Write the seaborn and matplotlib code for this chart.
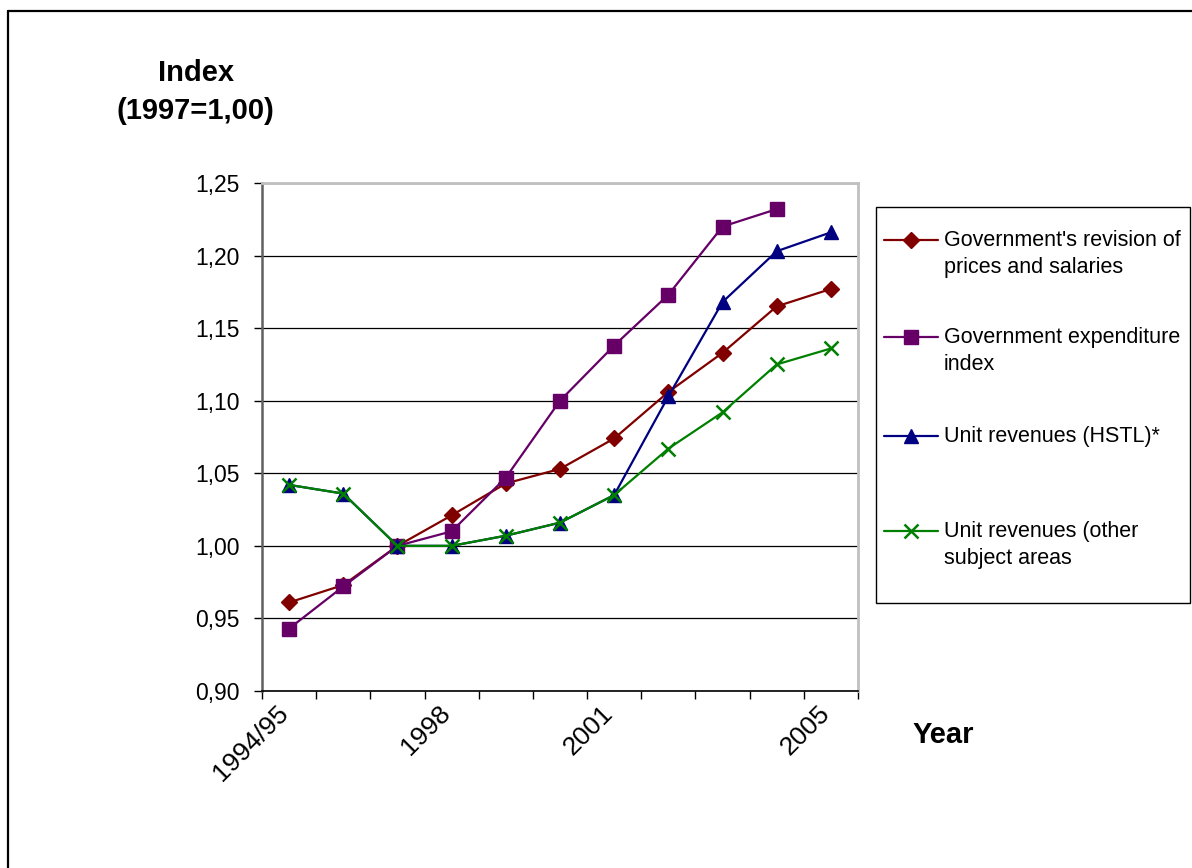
import matplotlib
matplotlib.use("Agg")
import matplotlib.pyplot as plt
from matplotlib.lines import Line2D
from matplotlib.patches import Rectangle
import seaborn as sns
import numpy as np

# ---- data -------------------------------------------------------------
years = ["1994/95", "1996", "1997", "1998", "1999", "2000",
         "2001", "2002", "2003", "2004", "2005"]
labelled_years = ["1994/95", "1998", "2001", "2005"]

price_salary = [0.961, 0.973, 1.000, 1.021, 1.043, 1.053,
                1.074, 1.106, 1.133, 1.165, 1.177]
expenditure = [0.943, 0.972, 1.000, 1.010, 1.047, 1.100,
               1.138, 1.173, 1.220, 1.232]
unit_hstl = [1.042, 1.036, 1.000, 1.000, 1.007, 1.016,
             1.035, 1.103, 1.168, 1.203, 1.216]
unit_other = [1.042, 1.036, 1.000, 1.000, 1.007, 1.016,
              1.035, 1.067, 1.092, 1.125, 1.136]

series_labels = ["Government's revision of\nprices and salaries",
                 "Government expenditure\nindex",
                 "Unit revenues (HSTL)*",
                 "Unit revenues (other\nsubject areas"]
y_ticks = [0.90, 0.95, 1.00, 1.05, 1.10, 1.15, 1.20, 1.25]

# ---- style ------------------------------------------------------------
sns.set_style("white")
plt.rcParams["font.family"] = ["Liberation Sans", "DejaVu Sans"]
plt.rcParams["text.color"] = "black"
plt.rcParams["xtick.color"] = "black"
plt.rcParams["ytick.color"] = "black"
plt.rcParams["xtick.labelcolor"] = "black"
plt.rcParams["ytick.labelcolor"] = "black"

W, H = 1192, 868
fig = plt.figure(figsize=(W / 100, H / 100), dpi=100)
ax = fig.add_axes([262 / W, 1 - 691 / H, 596 / W, 508 / H])

styles = [
    dict(color="#800000", marker="D", markersize=8.5, lw=1.6),
    dict(color="#660066", marker="s", markersize=10.5, lw=1.6),
    dict(color="#000080", marker="^", markersize=10.5, lw=1.6),
    dict(color="#008000", marker="x", markersize=10, lw=1.6, mew=1.8),
]
all_series = [price_salary, expenditure, unit_hstl, unit_other]

for vals, st in zip(all_series, styles):
    xs = np.arange(len(vals))
    sns.lineplot(x=xs, y=vals, ax=ax, color=st["color"], marker=st["marker"],
                 markersize=st["markersize"], linewidth=st["lw"],
                 markeredgecolor=st["color"], markeredgewidth=st.get("mew", 1),
                 estimator=None, legend=False)

ax.set_xlim(-0.5, len(years) - 0.5)
ax.set_ylim(0.90, 1.25)
ax.set_yticks(y_ticks)
ax.set_yticklabels([f"{v:.2f}".replace(".", ",") for v in y_ticks], fontsize=16.5)
ax.yaxis.grid(True, color="black", lw=0.9)
ax.set_axisbelow(True)

# ticks at category boundaries, labels at category centres
ax.set_xticks(np.arange(len(years) + 1) - 0.5)
ax.set_xticklabels([])
ax.set_xticks(np.arange(len(years)), minor=True)
ax.set_xticklabels([y if y in labelled_years else "" for y in years],
                   minor=True, rotation=45, ha="right", va="baseline",
                   rotation_mode="anchor", fontsize=19)
ax.tick_params(axis="x", which="minor", length=0, pad=17)
ax.tick_params(axis="x", which="major", direction="out", length=6,
               width=1, color="black", bottom=True)
ax.tick_params(axis="y", direction="out", length=6, width=1,
               color="black", left=True, pad=10)

ax.spines["left"].set_color("#606060")
ax.spines["left"].set_linewidth(1.8)
ax.spines["bottom"].set_color("black")
ax.spines["bottom"].set_linewidth(1.2)
for s in ("top", "right"):
    ax.spines[s].set_color("#c0c0c0")
    ax.spines[s].set_linewidth(2)

# ---- axis titles ------------------------------------------------------
fig.text(196 / W, 1 - 73 / H, "Index", fontsize=21, fontweight="bold",
         ha="center", va="center")
fig.text(195 / W, 1 - 111 / H, "(1997=1,00)", fontsize=21, fontweight="bold",
         ha="center", va="center")
fig.text(943 / W, 1 - 735 / H, "Year", fontsize=21, fontweight="bold",
         ha="center", va="center")

# ---- legend box -------------------------------------------------------
fig.add_artist(Rectangle((876 / W, 1 - 603 / H), 314 / W, 396 / H,
                         transform=fig.transFigure, fill=False,
                         edgecolor="black", lw=1))
entry_y = [240, 337, 436, 531]
for lab, st, yy in zip(series_labels, styles, entry_y):
    fy = 1 - yy / H
    fig.add_artist(Line2D([884 / W, 938 / W], [fy, fy], transform=fig.transFigure,
                          color=st["color"], lw=st["lw"]))
    fig.add_artist(Line2D([911 / W], [fy], transform=fig.transFigure,
                          color=st["color"], marker=st["marker"],
                          markersize=st["markersize"],
                          markeredgewidth=st.get("mew", 1), lw=0))
    for k, line in enumerate(lab.split("\n")):
        fig.text(944 / W, 1 - (yy + 27.5 * k) / H, line, fontsize=15.5,
                 ha="left", va="center")

# ---- outer frame ------------------------------------------------------
fig.add_artist(Line2D([8 / W, 8 / W], [0, 1 - 11 / H], transform=fig.transFigure,
                      color="black", lw=1.6))
fig.add_artist(Line2D([8 / W, 1], [1 - 11 / H, 1 - 11 / H],
                      transform=fig.transFigure, color="black", lw=1.6))

fig.savefig("out.png", dpi=100, facecolor="white")
